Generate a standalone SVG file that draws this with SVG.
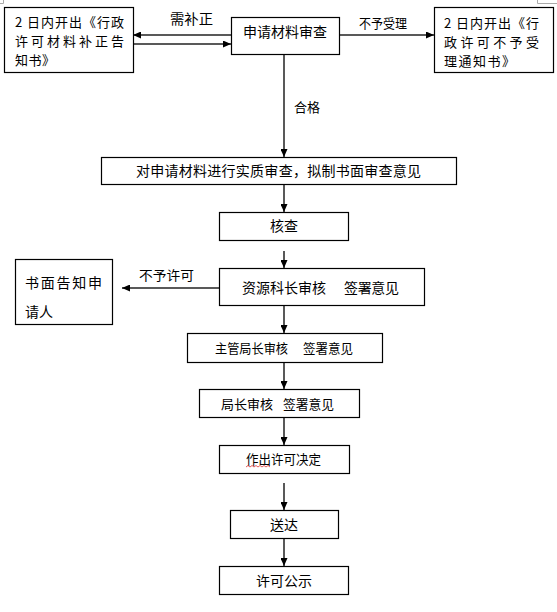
<svg xmlns="http://www.w3.org/2000/svg" width="557" height="612" viewBox="0 0 557 612">
<defs>
<marker id="ah" markerWidth="8" markerHeight="7" refX="8" refY="3.5" orient="auto" markerUnits="userSpaceOnUse">
<path d="M0,0 L8,3.5 L0,7 z" fill="#000"/>
</marker>
<style>
.box{fill:#fff;stroke:#000;stroke-width:1.2}
.t{font-family:"Noto Sans CJK SC","Liberation Sans",sans-serif;font-size:14px;fill:#000}
.m{font-family:"Noto Sans CJK SC","Liberation Sans",sans-serif;font-size:13px;fill:#000}
.s{font-family:"Noto Sans CJK SC","Liberation Sans",sans-serif;font-size:13px;fill:#000}
.c{text-anchor:middle}
.ln{stroke:#222;stroke-width:1.5;fill:none;marker-end:url(#ah)}
</style>
</defs>
<rect width="557" height="612" fill="#fff"/>
<g id="cornermarks" stroke="#aaa" stroke-width="1" fill="none">
<path d="M0,3.5 H3.5 V0"/>
<path d="M537.5,0 V3.5 H557"/>
</g>
<g id="connectors">
<line class="ln" x1="231" y1="35" x2="133" y2="35"/>
<line class="ln" x1="133" y1="44" x2="231" y2="44"/>
<line class="ln" x1="339" y1="35" x2="434" y2="35"/>
<line class="ln" x1="284" y1="54" x2="284" y2="157"/>
<line class="ln" x1="284" y1="184" x2="284" y2="212"/>
<line class="ln" x1="284" y1="251" x2="284" y2="268"/>
<line class="ln" x1="219" y1="288" x2="122" y2="288"/>
<line class="ln" x1="284" y1="305" x2="284" y2="333"/>
<line class="ln" x1="284" y1="362" x2="284" y2="389"/>
<line class="ln" x1="284" y1="417" x2="284" y2="445"/>
<line class="ln" x1="284" y1="483" x2="284" y2="510"/>
<line class="ln" x1="284" y1="538" x2="284" y2="566"/>
<text class="t" x="170" y="24" textLength="43" lengthAdjust="spacingAndGlyphs">需补正</text>
<text class="s" x="359" y="28" textLength="48" lengthAdjust="spacingAndGlyphs">不予受理</text>
<text class="s" x="294" y="112" textLength="26" lengthAdjust="spacingAndGlyphs">合格</text>
<text class="s" x="139" y="280" textLength="55" lengthAdjust="spacingAndGlyphs">不予许可</text>
</g>
<g id="n-buzheng">
<rect class="box" x="4.5" y="7.5" width="129" height="65"/>
<text class="m" x="15" y="27" textLength="109" lengthAdjust="spacing">2 日内开出《行政</text>
<text class="m" x="15" y="46" textLength="109" lengthAdjust="spacing">许可材料补正告</text>
<text class="m" x="15" y="65" textLength="40" lengthAdjust="spacing">知书》</text>
</g>
<g id="n-shencha">
<rect class="box" x="231.5" y="17.5" width="108" height="37"/>
<text class="t" x="243" y="37" textLength="84" lengthAdjust="spacing">申请材料审查</text>
</g>
<g id="n-bushouli">
<rect class="box" x="434.5" y="7.5" width="119" height="65"/>
<text class="m" x="444" y="28" textLength="95" lengthAdjust="spacing">2 日内开出《行</text>
<text class="m" x="444" y="47" textLength="95" lengthAdjust="spacing">政许可不予受</text>
<text class="m" x="444" y="66" textLength="71" lengthAdjust="spacing">理通知书》</text>
</g>
<g id="n-shizhi">
<rect class="box" x="101.5" y="157.5" width="355" height="27"/>
<text class="t" x="136" y="176" textLength="285" lengthAdjust="spacing">对申请材料进行实质审查，拟制书面审查意见</text>
</g>
<g id="n-hecha">
<rect class="box" x="219.5" y="212.5" width="129" height="28"/>
<text class="t c" x="284" y="231">核查</text>
</g>
<g id="n-ziyuan">
<rect class="box" x="219.5" y="268.5" width="205" height="37"/>
<text class="t" x="242" y="293" textLength="84" lengthAdjust="spacing">资源科长审核</text>
<text class="t" x="344" y="293" textLength="55" lengthAdjust="spacing">签署意见</text>
</g>
<g id="n-shumian">
<rect class="box" x="15.5" y="259.5" width="97" height="65"/>
<text class="t" x="25" y="288" textLength="77" lengthAdjust="spacing">书面告知申</text>
<text class="t" x="25" y="317">请人</text>
</g>
<g id="n-zhuguan">
<rect class="box" x="187.5" y="333.5" width="195" height="29"/>
<text class="m" x="215" y="353" textLength="73" lengthAdjust="spacingAndGlyphs">主管局长审核</text>
<text class="m" x="303" y="353" textLength="50" lengthAdjust="spacingAndGlyphs">签署意见</text>
</g>
<g id="n-juzhang">
<rect class="box" x="199.5" y="389.5" width="160" height="28"/>
<text class="m" x="221" y="409" textLength="52" lengthAdjust="spacingAndGlyphs">局长审核</text>
<text class="m" x="283" y="409" textLength="51" lengthAdjust="spacingAndGlyphs">签署意见</text>
</g>
<g id="n-zuochu">
<rect class="box" x="219.5" y="445.5" width="130" height="28"/>
<text class="m" x="246" y="464" textLength="75" lengthAdjust="spacingAndGlyphs">作出许可决定</text>
<path d="M246,467 l2,-1.5 l2,1.5 l2,-1.5 l2,1.5 l2,-1.5 l2,1.5 l2,-1.5 l2,1.5 l2,-1.5 l2,1.5 l2,-1.5 l2,1.5" stroke="#d33" stroke-width="0.8" fill="none"/>
</g>
<g id="n-songda">
<rect class="box" x="230.5" y="510.5" width="108" height="28"/>
<text class="t c" x="284" y="530">送达</text>
</g>
<g id="n-gongshi">
<rect class="box" x="219.5" y="566.5" width="129" height="28"/>
<text class="t c" x="284" y="586">许可公示</text>
</g>
</svg>
